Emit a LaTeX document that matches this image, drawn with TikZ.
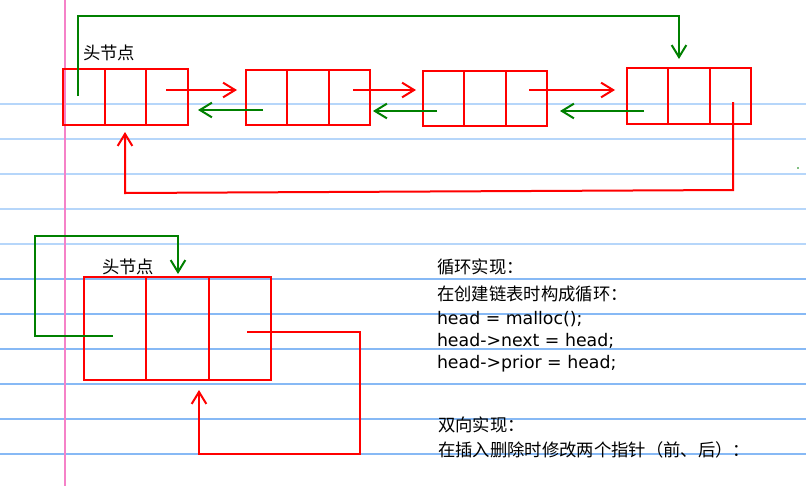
\documentclass[tikz,border=0pt]{standalone}
\usepackage{fontspec}
\setmainfont{DejaVu Sans}
\newfontfamily\cjk{Noto Sans CJK SC}
\usetikzlibrary{arrows.meta,calc}
\definecolor{lnred}{RGB}{255,0,0}
\definecolor{lngreen}{RGB}{0,128,0}
\definecolor{ruleA}{RGB}{182,214,250}
\definecolor{ruleB}{RGB}{135,185,245}
\definecolor{marginpink}{RGB}{245,130,200}
\newcommand\celldiv[1]{%
  \draw[divider] ($(#1.north west)!1/3!(#1.north east)$) -- ($(#1.south west)!1/3!(#1.south east)$);
  \draw[divider] ($(#1.north west)!2/3!(#1.north east)$) -- ($(#1.south west)!2/3!(#1.south east)$);}
\begin{document}
\begin{tikzpicture}[x=0.75pt,y=-0.75pt,
  nodebox/.style={draw=lnred, line width=1.5pt, rectangle, inner sep=0pt, outer sep=0pt},
  divider/.style={draw=lnred, line width=1.5pt},
  redarrow/.style={draw=lnred, line width=1.5pt, -{Straight Barb[length=9pt,width=11pt]}},
  greenarrow/.style={draw=lngreen, line width=1.5pt, -{Straight Barb[length=9pt,width=11pt]}},
  ruleline/.style={line width=1pt},
  txt/.style={anchor=base west, inner sep=0pt, outer sep=0pt, text=black, font=\fontsize{13pt}{16pt}\selectfont},
]
% page
\fill[white] (0,0) rectangle (806,486);
\useasboundingbox (0,0) rectangle (806,486);
% ruled paper
\foreach \yy in {104,139,174,209,244} {\draw[ruleline, ruleA] (0,\yy) -- (806,\yy);}
\foreach \yy in {279,314,349,384,419,454} {\draw[ruleline, ruleB] (0,\yy) -- (806,\yy);}
\draw[marginpink, line width=1.1pt] (65,0) -- (65,486);

% upper list nodes
\node[nodebox, minimum width=125*0.75pt, minimum height=56*0.75pt] (n1) at (125.5,97) {};
\node[nodebox, minimum width=124*0.75pt, minimum height=55*0.75pt] (n2) at (308,97.5) {};
\node[nodebox, minimum width=124*0.75pt, minimum height=55*0.75pt] (n3) at (485,98.5) {};
\node[nodebox, minimum width=124*0.75pt, minimum height=56*0.75pt] (n4) at (689,96) {};
\celldiv{n1}\celldiv{n2}\celldiv{n3}\celldiv{n4}

\node[txt] (h1) at (83,59) {\cjk 头节点};

% next pointers (red)
\coordinate (f1s) at (166,90);  \coordinate (f1e) at (237,90);
\coordinate (f2s) at (353,90);  \coordinate (f2e) at (416,90);
\coordinate (f3s) at (529,90);  \coordinate (f3e) at (615,90);
\draw[redarrow] (f1s) -- (f1e);
\draw[redarrow] (f2s) -- (f2e);
\draw[redarrow] (f3s) -- (f3e);

% prior pointers (green)
\coordinate (b1s) at (263,110); \coordinate (b1e) at (198,110);
\coordinate (b2s) at (437,111); \coordinate (b2e) at (373,111);
\coordinate (b3s) at (644,111); \coordinate (b3e) at (560,111);
\draw[greenarrow] (b1s) -- (b1e);
\draw[greenarrow] (b2s) -- (b2e);
\draw[greenarrow] (b3s) -- (b3e);

% head prior -> tail (green loop)
\coordinate (gts) at (77.5,96);
\coordinate (gte) at (679,59);
\draw[greenarrow] (gts) -- (77.5,16) -- (679,16) -- (gte);

% tail next -> head (red loop)
\coordinate (rts) at (733,102);
\coordinate (rte) at (125,132);
\draw[redarrow] (rts) -- (733,190) -- (125,193) -- (rte);

\fill[lngreen] (798,168) circle (0.8);

% lower single node
\node[nodebox, minimum width=187*0.75pt, minimum height=103*0.75pt] (nb) at (177.5,328.5) {};
\celldiv{nb}
\node[txt] (h2) at (102,273) {\cjk 头节点};

\coordinate (gbs) at (113,336);
\coordinate (gbe) at (178,274);
\draw[greenarrow] (gbs) -- (35,336) -- (35,236) -- (178,236) -- (gbe);

\coordinate (rbs) at (247,332);
\coordinate (rbe) at (199,390);
\draw[redarrow] (rbs) -- (360,332) -- (360,454) -- (199,454) -- (rbe);

% notes
\node[txt] (t1) at (437,273) {\cjk 循环实现：};
\node[txt] (t2) at (437,300) {\cjk 在创建链表时构成循环：};
\node[txt] (t3) at (437,324) {head = malloc();};
\node[txt] (t4) at (437,346) {head->next = head;};
\node[txt] (t5) at (437,368) {head->prior = head;};
\node[txt] (t6) at (438,431.5) {\cjk 双向实现：};
\node[txt] (t7) at (438,456.5) {\cjk 在插入删除时修改两个指针（前、后）：};
\end{tikzpicture}
\end{document}
